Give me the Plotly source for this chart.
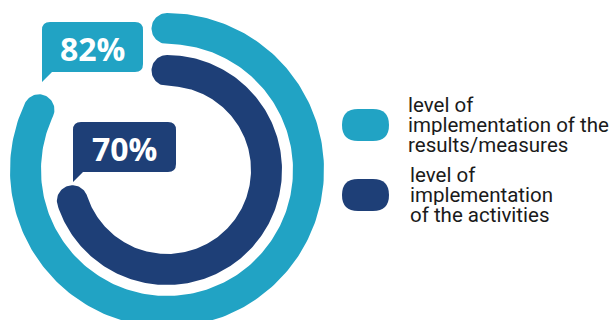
import numpy as np
import plotly.graph_objects as go

# Two progress rings: share of implementation, in percent
series = ["results/measures", "activities"]
values = [82, 70]
colors = ["#21A3C4", "#1E3F77"]
legend_lines = [
    ["level of", "implementation of the", "results/measures"],
    ["level of", "implementation", "of the activities"],
]

W, H = 614, 320
cx, cy = 167, 170          # ring centre (pixel-like data units)
ring_mid = [141.5, 99.5]   # centre-line radius of each ring
thick = 31                 # ring thickness


def ring_path(pct, rm, t):
    """Closed outline of a clockwise arc from 12 o'clock with rounded ends."""
    sweep = 2 * np.pi * pct / 100.0
    h = t / 2.0
    a = np.linspace(0, sweep, 240)
    xs = list(cx + (rm + h) * np.sin(a))
    ys = list(cy - (rm + h) * np.cos(a))
    # rounded end
    ex, ey = cx + rm * np.sin(sweep), cy - rm * np.cos(sweep)
    rad = np.array([np.sin(sweep), -np.cos(sweep)])
    tan = np.array([np.cos(sweep), np.sin(sweep)])
    phi = np.linspace(0, np.pi, 40)
    xs += list(ex + h * (np.cos(phi) * rad[0] + np.sin(phi) * tan[0]))
    ys += list(ey + h * (np.cos(phi) * rad[1] + np.sin(phi) * tan[1]))
    # inner edge back to start
    b = a[::-1]
    xs += list(cx + (rm - h) * np.sin(b))
    ys += list(cy - (rm - h) * np.cos(b))
    # rounded start
    sx, sy = cx, cy - rm
    rad0 = np.array([0.0, -1.0])
    tan0 = np.array([1.0, 0.0])
    xs += list(sx + h * (-np.cos(phi) * rad0[0] - np.sin(phi) * tan0[0]))
    ys += list(sy + h * (-np.cos(phi) * rad0[1] - np.sin(phi) * tan0[1]))
    return xs, ys


fig = go.Figure()
for name, v, c, rm in zip(series, values, colors, ring_mid):
    xs, ys = ring_path(v, rm, thick)
    fig.add_trace(go.Scatter(x=xs, y=ys, mode="lines", fill="toself",
                             fillcolor=c, line=dict(width=0, color=c),
                             name=name, hoverinfo="skip"))


def callout(x0, y0, x1, y1, r=8, tail=10):
    return (f"M {x0+r},{y0} H {x1-r} Q {x1},{y0} {x1},{y0+r} "
            f"V {y1-r} Q {x1},{y1} {x1-r},{y1} H {x0+tail} "
            f"L {x0},{y1+tail} V {y0+r} Q {x0},{y0} {x0+r},{y0} Z")


boxes = [(42, 22, 143, 72), (73, 122, 176, 172)]
shapes = []
annotations = []
for (x0, y0, x1, y1), v, c in zip(boxes, values, colors):
    shapes.append(dict(type="path", path=callout(x0, y0, x1, y1),
                       fillcolor=c, line=dict(width=0), xref="x", yref="y"))
    annotations.append(dict(x=(x0 + x1) / 2, y=(y0 + y1) / 2 + 1, text=f"<b>{v}%</b>",
                            showarrow=False, xref="x", yref="y",
                            font=dict(family="Open Sans", size=32, color="white")))

# legend: pill swatches and wrapped labels
pills = [(342, 109, 389, 141), (342, 179, 389, 211)]
text_x = [407, 409]
line_y = [[105, 125, 145], [175, 195, 215]]
for (x0, y0, x1, y1), c, lines, tx, ly in zip(pills, colors, legend_lines, text_x, line_y):
    r = (y1 - y0) / 2
    shapes.append(dict(type="path",
                       path=(f"M {x0+r},{y0} H {x1-r} Q {x1},{y0} {x1},{y0+r} "
                             f"Q {x1},{y1} {x1-r},{y1} H {x0+r} Q {x0},{y1} {x0},{y0+r} "
                             f"Q {x0},{y0} {x0+r},{y0} Z"),
                       fillcolor=c, line=dict(width=0), xref="x", yref="y"))
    for t, yy in zip(lines, ly):
        annotations.append(dict(x=tx, y=yy, text=t, showarrow=False, xanchor="left",
                                yanchor="middle", height=20, valign="middle",
                                borderpad=0, xref="x", yref="y",
                                font=dict(family="Roboto", size=20.5, color="#1a1a1a")))

fig.update_layout(
    width=W, height=H, margin=dict(l=0, r=0, t=0, b=0),
    paper_bgcolor="white", plot_bgcolor="white", showlegend=False,
    xaxis=dict(range=[0, W], visible=False, fixedrange=True),
    yaxis=dict(range=[H, 0], visible=False, fixedrange=True),
    shapes=shapes, annotations=annotations,
)
fig.write_html("out.html")
